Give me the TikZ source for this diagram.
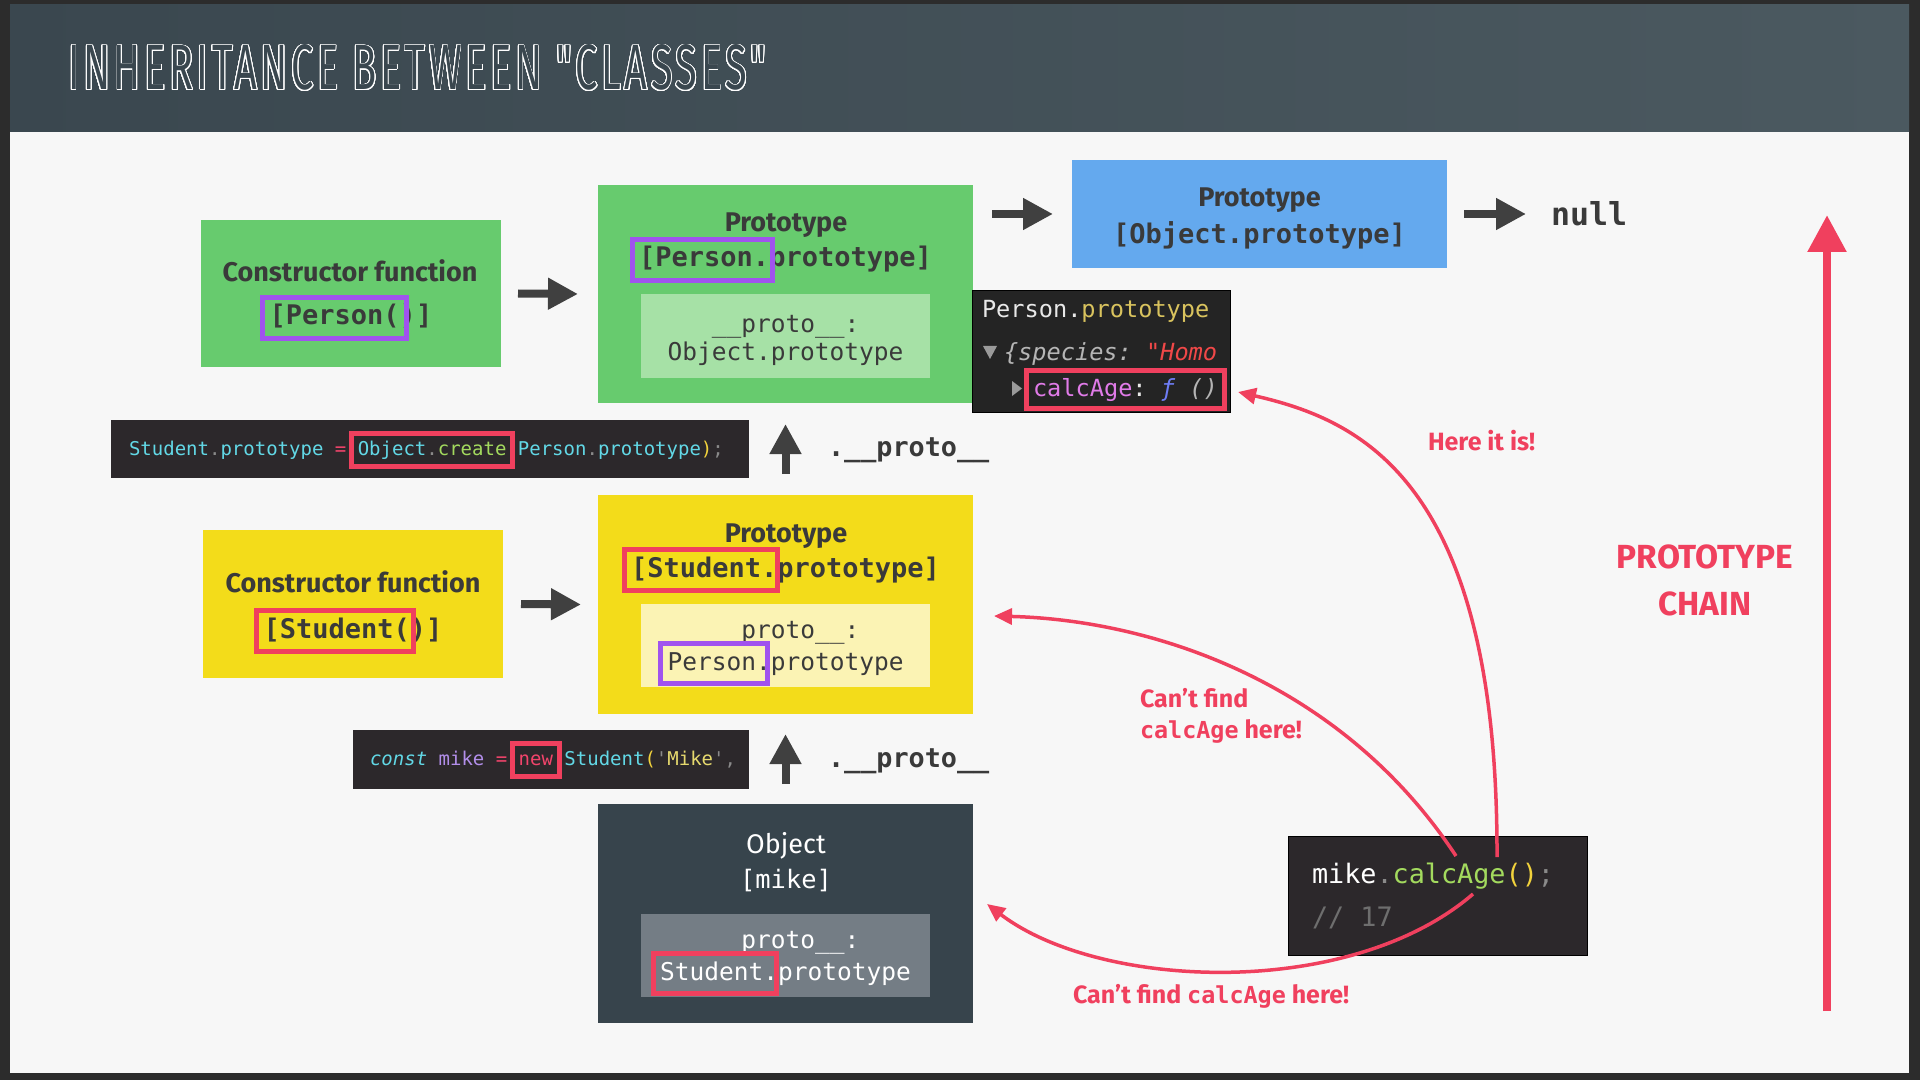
\documentclass[tikz,border=0pt]{standalone}
\usepackage{fontspec}
\usepackage{contour}
\usetikzlibrary{arrows.meta,fit}
\setmainfont{Fira Sans}
\setmonofont{DejaVu Sans Mono}
\newfontfamily\titlefont{Fira Sans}[LetterSpace=9]

% one screen pixel
\newlength\px
\setlength\px{0.5pt}
\contourlength{0.45pt}
\contournumber{32}

% palette
\definecolor{frame}{HTML}{2C2C2C}
\definecolor{paper}{HTML}{F7F7F7}
\definecolor{headL}{HTML}{3A474F}
\definecolor{headR}{HTML}{4B5960}
\definecolor{ink}{HTML}{3A3A3A}
\definecolor{pgreen}{HTML}{67CB6E}
\definecolor{pgreenlt}{HTML}{A6E1A6}
\definecolor{oblue}{HTML}{64A9EE}
\definecolor{syellow}{HTML}{F3DC1A}
\definecolor{syellowlt}{HTML}{FBF3B4}
\definecolor{mslate}{HTML}{37444C}
\definecolor{mslatelt}{HTML}{747D85}
\definecolor{codebg}{HTML}{2C282B}
\definecolor{consolebg}{HTML}{242424}
\definecolor{hired}{HTML}{F0405E}
\definecolor{hipurple}{HTML}{A053EE}
\definecolor{arrowgray}{HTML}{404040}
% syntax colours
\definecolor{tcyan}{HTML}{62D8E6}
\definecolor{tgreen}{HTML}{A3DA5E}
\definecolor{tpink}{HTML}{F2446B}
\definecolor{tyellow}{HTML}{F2D23C}
\definecolor{tstr}{HTML}{E6D96E}
\definecolor{tpurple}{HTML}{B28EEA}
\definecolor{tdot}{HTML}{8A8A8A}
\definecolor{tcomment}{HTML}{6E6E6E}
\definecolor{conwhite}{HTML}{E8E8E8}
\definecolor{conyellow}{HTML}{D9C35E}
\definecolor{congray}{HTML}{B5B5B5}
\definecolor{conred}{HTML}{F04848}
\definecolor{conpink}{HTML}{E07BE8}
\definecolor{conblue}{HTML}{6E7DF5}
\definecolor{contri}{HTML}{9A9A9A}

% fonts
\newcommand\fBoxTitle{\fontsize{13.5}{15}\selectfont\bfseries}
\newcommand\fObjTitle{\fontsize{13.5}{15}\selectfont}
\newcommand\fBoxCode{\fontsize{13.5}{16}\selectfont\ttfamily\bfseries}
\newcommand\fInner{\fontsize{12.25}{15}\selectfont\ttfamily}
\newcommand\fProto{\fontsize{13.4}{16}\selectfont\ttfamily\bfseries}
\newcommand\fNull{\fontsize{15.8}{18}\selectfont\ttfamily\bfseries}
\newcommand\fCode{\fontsize{9.5}{12}\selectfont\ttfamily}
\newcommand\fCall{\fontsize{13.4}{16}\selectfont\ttfamily}
\newcommand\fConsole{\fontsize{11.8}{14}\selectfont\ttfamily}
\newcommand\fLabel{\fontsize{12.5}{15}\selectfont\bfseries}
\newcommand\fLabelCode{\fontsize{11.7}{14}\selectfont\ttfamily}
\newcommand\fChain{\fontsize{16.7}{20}\selectfont\bfseries}
% a fixed-width blank in the current monospaced font
\newcommand\msp{\hbox to 0.602em{}}

\begin{document}
\begin{tikzpicture}[x=0.5pt,y=-0.5pt,
  panel/.style={rectangle,inner sep=0pt,outer sep=0pt},
  txt/.style={inner sep=0pt,outer sep=0pt,anchor=base},
  ltxt/.style={inner sep=0pt,outer sep=0pt,anchor=base west},
  bigpiece/.style={ltxt,text height=10pt,text depth=3pt,font=\fBoxCode,text=ink},
  innerpiece/.style={ltxt,text height=9.3pt,text depth=2.8pt,font=\fInner},
  codepiece/.style={ltxt,text height=7.2pt,text depth=2.2pt,font=\fCode},
  conpiece/.style={ltxt,text height=9pt,text depth=2.7pt,font=\fConsole},
  hl/.style={draw=#1,line width=2.5pt,inner xsep=3.5pt,inner ysep=3.75pt},
  codehl/.style={draw=#1,line width=2.5pt,inner xsep=3pt,inner ysep=3.75pt},
  blockarrow/.style={draw=arrowgray,line width=4pt,-{Triangle[length=15pt,width=15pt]}},
  chainarrow/.style={draw=hired,line width=4.25pt,-{Triangle[length=18.5pt,width=18.5pt]}},
  lookup/.style={draw=hired,line width=1.75pt,-{Triangle[length=9pt,width=8pt]}},
  redlabel/.style={ltxt,font=\fLabel,text=hired},
]
\useasboundingbox (0,0) rectangle (1920,1080);

% frame, page and title band
\fill[frame] (0,0) rectangle (1920,1080);
\fill[paper] (10,132) rectangle (1909,1073);
\shade[left color=headL,right color=headR] (10,5) rectangle (1909,132);
\node[ltxt,text=headL] (title) at (68,90)
  {\contour{white}{\resizebox{349pt}{22.5pt}{\titlefont INHERITANCE BETWEEN "CLASSES"}}};

% ---------- Person constructor ----------
\node[panel,fill=pgreen,minimum width=150pt,minimum height=73.5pt] (pcons) at (351,293.5) {};
\node[txt,font=\fBoxTitle,text=ink] (pconsT) at (350,282) {Constructor function};
\node[bigpiece] (pconsA) at (269.7,325) {[Person(};
\node[bigpiece] (pconsB) at (pconsA.base east) {)]};
\node[hl=hipurple,fit=(pconsA)] (pconsH) {};

% ---------- Person.prototype ----------
\node[panel,fill=pgreen,minimum width=187.5pt,minimum height=109pt] (pproto) at (785.5,294) {};
\node[txt,font=\fBoxTitle,text=ink] (pprotoT) at (786,232) {Prototype};
\node[bigpiece] (pprotoA) at (639.2,267) {[Person.};
\node[bigpiece] (pprotoB) at (pprotoA.base east) {prototype]};
\node[hl=hipurple,fit={(pprotoA.north west) ([xshift=-1.75pt]pprotoA.south east)}] (pprotoH) {};
\node[panel,fill=pgreenlt,minimum width=144.5pt,minimum height=42pt] (pprotoIn) at (785.5,336) {};
\node[txt,font=\fInner,text=ink] (pprotoL1) at (785.5,333) {\_\_proto\_\_:};
\node[txt,font=\fInner,text=ink] (pprotoL2) at (785.5,361) {Object.prototype};

% ---------- Object.prototype ----------
\node[panel,fill=oblue,minimum width=187.5pt,minimum height=54pt] (oproto) at (1259.5,214) {};
\node[txt,font=\fBoxTitle,text=ink] (oprotoT) at (1259.5,207) {Prototype};
\node[txt,font=\fBoxCode,text=ink] (oprotoL) at (1259.5,244) {[Object.prototype]};
\node[ltxt,font=\fNull,text=ink] (nullT) at (1551,226) {null};

% ---------- console view of Person.prototype ----------
\node[panel,fill=consolebg,draw=black,line width=0.5pt,minimum width=129pt,minimum height=60.5pt] (console) at (1101,351.5) {};
\begin{scope}
  \clip (972,291) rectangle (1230,412);
  \node[conpiece] (consL1) at (982,318) {\textcolor{conwhite}{Person.}\textcolor{conyellow}{prototype}};
  \fill[contri] (983,346) -- (997,346) -- (990,359) -- cycle;
  \node[conpiece] (consL2) at (1004,361) {\itshape\textcolor{congray}{\{species:}\msp\textcolor{conred}{"Homo}};
  \fill[contri] (1012,381) -- (1022,388.5) -- (1012,396) -- cycle;
  \node[conpiece] (consL3) at (1033,396) {\textcolor{conpink}{calcAge}\textcolor{conwhite}{:}\msp\textcolor{conblue}{\itshape ƒ}\msp\textcolor{congray}{\itshape ()}};
\end{scope}
\node[hl=hired,fit=(consL3)] (consH) {};

% ---------- Object.create line ----------
\node[panel,fill=codebg,minimum width=319pt,minimum height=29pt] (code1) at (430,449) {};
\node[codepiece] (code1A) at (129,455) {\textcolor{tcyan}{Student}\textcolor{tdot}{.}\textcolor{tcyan}{prototype}\msp\textcolor{tpink}{=}\msp};
\node[codepiece] (code1B) at (code1A.base east) {\textcolor{tcyan}{Object}\textcolor{tdot}{.}\textcolor{tgreen}{create}};
\node[codepiece] (code1C) at (code1B.base east) {\textcolor{tyellow}{(}\textcolor{tcyan}{Person}\textcolor{tdot}{.}\textcolor{tcyan}{prototype}\textcolor{tyellow}{)}\textcolor{tdot}{;}};
\node[codehl=hired,fit=(code1B)] (code1H) {};

% ---------- Student constructor ----------
\node[panel,fill=syellow,minimum width=150pt,minimum height=74pt] (scons) at (353,604) {};
\node[txt,font=\fBoxTitle,text=ink] (sconsT) at (353,592) {Constructor function};
\node[bigpiece] (sconsA) at (263.6,638) {[Student(};
\node[bigpiece] (sconsB) at (sconsA.base east) {)]};
\node[hl=hired,fit={(sconsA.north west) ([xshift=-1.5pt]sconsA.south east)}] (sconsH) {};

% ---------- Student.prototype ----------
\node[panel,fill=syellow,minimum width=187.5pt,minimum height=109.5pt] (sproto) at (785.5,604.5) {};
\node[txt,font=\fBoxTitle,text=ink] (sprotoT) at (786,542) {Prototype};
\node[bigpiece] (sprotoA) at (631.1,577) {[Student.};
\node[bigpiece] (sprotoB) at (sprotoA.base east) {prototype]};
\node[hl=hired,fit={(sprotoA.north west) ([xshift=-3.5pt]sprotoA.south east)}] (sprotoH) {};
\node[panel,fill=syellowlt,minimum width=144.5pt,minimum height=41.5pt] (sprotoIn) at (785.5,645.5) {};
\node[txt,font=\fInner,text=ink] (sprotoL1) at (785.5,638) {\phantom{\_\_}proto\_\_:};
\node[innerpiece,text=ink] (sprotoA2) at (667.5,670) {Person.};
\node[innerpiece,text=ink] (sprotoB2) at (sprotoA2.base east) {prototype};
\node[hl=hipurple,fit={(sprotoA2.north west) ([xshift=-5pt]sprotoA2.south east)}] (sprotoH2) {};

% ---------- new Student line ----------
\node[panel,fill=codebg,minimum width=198pt,minimum height=29.5pt] (code2) at (551,759.5) {};
\node[codepiece] (code2A) at (370,765) {\textcolor{tcyan}{\itshape const}\msp\textcolor{tpurple}{mike}\msp\textcolor{tpink}{=}\msp};
\node[codepiece] (code2B) at (code2A.base east) {\textcolor{tpink}{new}};
\node[codepiece] (code2C) at (code2B.base east) {\msp\textcolor{tcyan}{Student}\textcolor{tyellow}{(}\textcolor{tdot}{'}\textcolor{tstr}{Mike}\textcolor{tdot}{'}\textcolor{tdot}{,}};
\node[codehl=hired,fit=(code2B)] (code2H) {};

% ---------- mike object ----------
\node[panel,fill=mslate,minimum width=187.5pt,minimum height=109.5pt] (mike) at (785.5,913.5) {};
\node[txt,font=\fObjTitle,text=white] (mikeT) at (786,853) {Object};
\node[txt,font=\fInner\fontsize{12.7}{15}\selectfont,text=white] (mikeL) at (786,888) {[mike]};
\node[panel,fill=mslatelt,minimum width=144.5pt,minimum height=41.5pt] (mikeIn) at (785.5,955.5) {};
\node[txt,font=\fInner,text=white] (mikeL1) at (785.5,948) {\phantom{\_\_}proto\_\_:};
\node[innerpiece,text=white] (mikeA) at (660,980) {Student.};
\node[innerpiece,text=white] (mikeB) at (mikeA.base east) {prototype};
\node[hl=hired,fit={(mikeA.north west) ([xshift=-4.25pt]mikeA.south east)}] (mikeH) {};

% ---------- the call ----------
\node[panel,fill=codebg,draw=black,line width=0.5pt,minimum width=149.5pt,minimum height=59.5pt] (call) at (1437.5,895.5) {};
\node[ltxt,font=\fCall] (callL1) at (1312,883) {\textcolor{white}{mike}\textcolor{tdot}{.}\textcolor{tgreen}{calcAge}\textcolor{tyellow}{()}\textcolor{tdot}{;}};
\node[ltxt,font=\fCall,text=tcomment] (callL2) at (1312,926) {//\msp17};

% ---------- chain links ----------
\draw[blockarrow] ([xshift=8.5pt]pcons.east) -- ([xshift=-10pt]pproto.west);
\draw[blockarrow] ([xshift=9pt]scons.east) -- ([xshift=-8.5pt]sproto.west);
\draw[blockarrow] ([xshift=9.5pt]pproto.east |- oproto.west) -- ([xshift=-9.5pt]oproto.west);
\draw[blockarrow] ([xshift=8.5pt]oproto.east) -- ([xshift=-12.5pt]nullT.west |- oproto.east);
\draw[blockarrow] ([yshift=10.5pt]sproto.north) -- ([yshift=-10.5pt]pproto.south);
\draw[blockarrow] ([yshift=10pt]mike.north) -- ([yshift=-10pt]sproto.south);
\node[ltxt,font=\fProto,text=ink] (protoLinkA) at (828,456) {.\_\_proto\_\_};
\node[ltxt,font=\fProto,text=ink] (protoLinkB) at (828,767) {.\_\_proto\_\_};

% ---------- property lookup ----------
\coordinate (fromA) at (1497,857);
\coordinate (fromB) at (1456,856);
\coordinate (fromC) at (1473,894);
\coordinate (foundHere) at (1238,392);
\coordinate (notInStudent) at (994,616);
\coordinate (notInMike) at (987,904);
\draw[lookup] (fromA) .. controls (1498,480) and (1360,420) .. (foundHere);
\draw[lookup] (fromB) .. controls (1340,680) and (1150,620) .. (notInStudent);
\draw[lookup] (fromC) .. controls (1350,1000) and (1100,990) .. (notInMike);

\node[redlabel] (hereLbl) at (1428,450) {Here it is!};
\node[redlabel] (cantA1) at (1140,707) {Can’t find};
\node[redlabel] (cantA2) at (1140,738) {{\fLabelCode calcAge} here!};
\node[redlabel] (cantB) at (1073,1003) {Can’t find {\fLabelCode calcAge} here!};

% ---------- prototype chain ----------
\coordinate (chainFoot) at (1827,1011);
\coordinate (chainHead) at (1827,215);
\draw[chainarrow] (chainFoot) -- (chainHead);
\node[txt,font=\fChain,text=hired] (chainA) at (1705,568) {PROTOTYPE};
\node[txt,font=\fChain,text=hired] (chainB) at (1705,615) {CHAIN};
\end{tikzpicture}
\end{document}
